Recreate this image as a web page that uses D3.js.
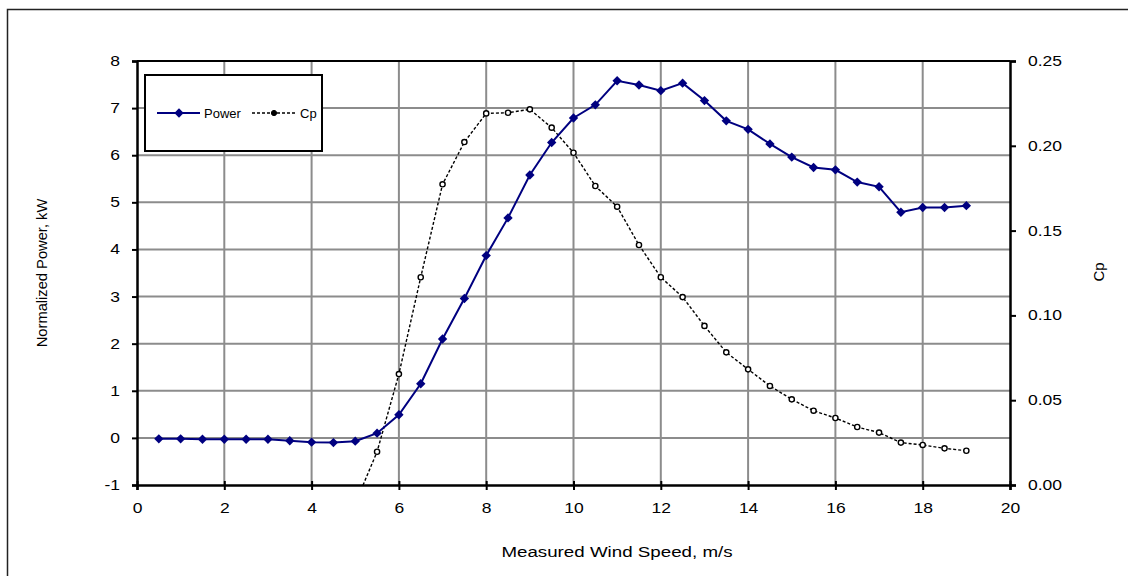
<!DOCTYPE html>
<meta charset="utf-8">
<style>
  body { margin: 0; background: #fff; }
  text { font-family: "Liberation Sans", Arial, sans-serif; }
</style>
<script src="https://d3js.org/d3.v7.min.js"></script>
<div id="chart"></div>
<script>

// wind speed bins, m/s
const windSpeed = [0.5, 1, 1.5, 2, 2.5, 3, 3.5, 4, 4.5, 5, 5.5, 6, 6.5, 7, 7.5, 8, 8.5, 9, 9.5, 10,
                   10.5, 11, 11.5, 12, 12.5, 13, 13.5, 14, 14.5, 15, 15.5, 16, 16.5, 17, 17.5, 18, 18.5, 19];
// normalized power, kW
const power = [-0.02, -0.02, -0.03, -0.03, -0.03, -0.03, -0.06, -0.09, -0.1, -0.07, 0.1, 0.49, 1.15, 2.1, 2.96, 3.87,
               4.67, 5.58, 6.27, 6.79, 7.07, 7.58, 7.49, 7.37, 7.53, 7.16, 6.73, 6.55, 6.24, 5.96, 5.74, 5.69,
               5.43, 5.33, 4.79, 4.89, 4.89, 4.93];
// Cp only from 5 m/s on
const cpSpeed = [5, 5.5, 6, 6.5, 7, 7.5, 8, 8.5, 9, 9.5, 10, 10.5, 11, 11.5, 12, 12.5, 13, 13.5, 14, 14.5,
                 15, 15.5, 16, 16.5, 17, 17.5, 18, 18.5, 19];
const cp = [-0.011, 0.0196, 0.0654, 0.1225, 0.1773, 0.2022, 0.2191, 0.2195, 0.2215, 0.2107, 0.1959, 0.1763,
            0.1641, 0.1415, 0.1225, 0.1108, 0.0938, 0.0782, 0.0682, 0.0584, 0.0505, 0.0438, 0.0395, 0.0342,
            0.0309, 0.025, 0.0236, 0.0216, 0.0202];

const xTicks = [0, 2, 4, 6, 8, 10, 12, 14, 16, 18, 20];
const yTicks = [-1, 0, 1, 2, 3, 4, 5, 6, 7, 8];
const y2Ticks = [0, 0.05, 0.10, 0.15, 0.20, 0.25];

const W = 1128, H = 576;
const pL = 137, pR = 1010, pT = 61, pB = 485;
const sx = 1.25; // the original picture is a bit stretched sideways

const svg = d3.select("#chart").append("svg")
    .attr("width", W).attr("height", H);

// stretch text horizontally around its anchor point
function stretch(sel, k) {
  sel.each(function () {
    const t = d3.select(this);
    const tx = +t.attr("x") || 0;
    t.attr("x", tx / k).attr("transform", "scale(" + k + ",1)");
  });
}

// outer frame
svg.append("rect")
    .attr("x", 7.5).attr("y", 9.5)
    .attr("width", W + 20).attr("height", H + 20)
    .attr("fill", "none").attr("stroke", "#222").attr("stroke-width", 1.5);

const x = d3.scaleLinear().domain([0, 20]).range([pL, pR]);
const y = d3.scaleLinear().domain([-1, 8]).range([pB, pT]);
const y2 = d3.scaleLinear().domain([0, 0.25]).range([pB, pT]);

// grid
svg.append("g").selectAll("line").data(xTicks.slice(1, -1)).join("line")
    .attr("x1", d => x(d)).attr("x2", d => x(d))
    .attr("y1", pT).attr("y2", pB)
    .attr("stroke", "#8c8c8c").attr("stroke-width", 2);
svg.append("g").selectAll("line").data(yTicks.slice(1, -1)).join("line")
    .attr("x1", pL).attr("x2", pR)
    .attr("y1", d => y(d)).attr("y2", d => y(d))
    .attr("stroke", "#8c8c8c").attr("stroke-width", 2);

// top border
svg.append("line")
    .attr("x1", pL).attr("x2", pR).attr("y1", pT).attr("y2", pT)
    .attr("stroke", "#000").attr("stroke-width", 2);

// axes
const gx = svg.append("g").attr("transform", "translate(0," + pB + ")")
    .call(d3.axisBottom(x).tickValues(xTicks).tickFormat(d => String(d)).tickSize(5).tickPadding(13));
gx.selectAll(".tick line").attr("y1", -4);
const gy = svg.append("g").attr("transform", "translate(" + pL + ",0)")
    .call(d3.axisLeft(y).tickValues(yTicks).tickFormat(d => String(d)).tickSize(5).tickPadding(12));
const gy2 = svg.append("g").attr("transform", "translate(" + pR + ",0)")
    .call(d3.axisRight(y2).tickValues(y2Ticks).tickFormat(d3.format(".2f")).tickSize(6).tickPadding(12));

[gx, gy, gy2].forEach(g => {
  g.select(".domain").attr("stroke", "#000").attr("stroke-width", 2.5);
  g.selectAll(".tick line").attr("stroke", "#000").attr("stroke-width", 2);
  g.selectAll(".tick text").attr("font-size", 14).attr("fill", "#000")
    .style("font-family", "'Liberation Sans', Arial, sans-serif")
    .call(stretch, sx);
});

// clip for the curves
svg.append("clipPath").attr("id", "plot")
  .append("rect").attr("x", pL).attr("y", pT).attr("width", pR - pL).attr("height", pB - pT);

const powerPts = windSpeed.map((s, i) => [s, power[i]]);
const cpPts = cpSpeed.map((s, i) => [s, cp[i]]);

const plot = svg.append("g").attr("clip-path", "url(#plot)");

plot.append("path")
    .attr("d", d3.line().x(d => x(d[0])).y(d => y2(d[1]))(cpPts))
    .attr("fill", "none").attr("stroke", "#000").attr("stroke-width", 1.4)
    .attr("stroke-dasharray", "3,2");

plot.append("path")
    .attr("d", d3.line().x(d => x(d[0])).y(d => y(d[1]))(powerPts))
    .attr("fill", "none").attr("stroke", "#000080").attr("stroke-width", 2);

const diamond = d3.symbol().type(d3.symbolDiamond2).size(56);
plot.selectAll(".pw").data(powerPts).join("path")
    .attr("class", "pw")
    .attr("transform", d => "translate(" + x(d[0]) + "," + y(d[1]) + ")")
    .attr("d", diamond).attr("fill", "#000080");

plot.selectAll(".cpm").data(cpPts).join("circle")
    .attr("class", "cpm")
    .attr("cx", d => x(d[0])).attr("cy", d => y2(d[1])).attr("r", 2.6)
    .attr("fill", "#fff").attr("stroke", "#000").attr("stroke-width", 1.4);

// legend
const lg = svg.append("g");
lg.append("rect").attr("x", 145).attr("y", 75).attr("width", 177).attr("height", 76)
    .attr("fill", "#fff").attr("stroke", "#000").attr("stroke-width", 2);
lg.append("line").attr("x1", 157).attr("x2", 200).attr("y1", 113).attr("y2", 113)
    .attr("stroke", "#000080").attr("stroke-width", 2);
lg.append("path").attr("transform", "translate(179,113)").attr("d", diamond).attr("fill", "#000080");
lg.append("text").attr("x", 204).attr("y", 117.5).attr("font-size", 13).text("Power");
lg.append("line").attr("x1", 252).attr("x2", 295).attr("y1", 113).attr("y2", 113)
    .attr("stroke", "#000").attr("stroke-width", 1.4).attr("stroke-dasharray", "3,2");
lg.append("circle").attr("cx", 274).attr("cy", 113).attr("r", 2.6)
    .attr("fill", "#000").attr("stroke", "#000");
lg.append("text").attr("x", 300).attr("y", 117.5).attr("font-size", 13).text("Cp");

// axis titles
svg.append("text").attr("x", 617).attr("y", 557)
    .attr("text-anchor", "middle").attr("font-size", 15).text("Measured Wind Speed, m/s")
    .call(stretch, sx);
svg.append("text").attr("transform", "translate(47,273) rotate(-90)")
    .attr("text-anchor", "middle").attr("font-size", 14.7).text("Normalized Power, kW");
svg.append("text").attr("transform", "translate(1104,272) rotate(-90)")
    .attr("text-anchor", "middle").attr("font-size", 15).text("Cp");

</script>
